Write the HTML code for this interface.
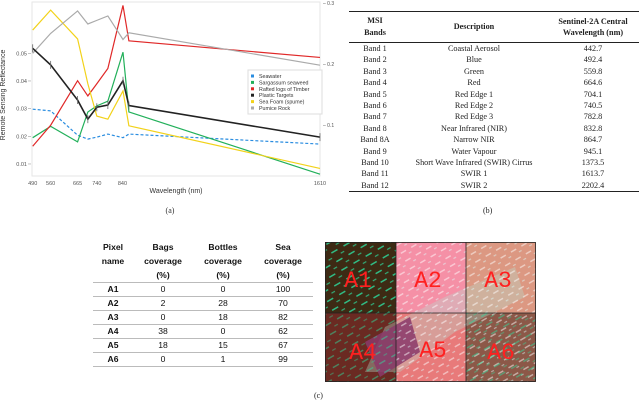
<!DOCTYPE html>
<html><head><meta charset="utf-8"><style>
body{margin:0;width:640px;height:405px;background:#fff;position:relative;overflow:hidden;font-family:"Liberation Sans",sans-serif}
.abs{position:absolute}
.serif{font-family:"Liberation Serif",serif;color:#222}
td{padding:0}
</style></head><body>
<svg class="abs" style="left:0;top:0" width="345" height="220" id="chart">
<rect x="32" y="2" width="288" height="174" fill="none" stroke="#e6e6e6"/>
<text x="5" y="95" font-size="7" fill="#333" transform="rotate(-90 5 95)" text-anchor="middle">Remote Sensing Reflectance</text>
<text x="176" y="193" font-size="7" fill="#333" text-anchor="middle">Wavelength (nm)</text>
<text x="170" y="213" font-size="8" fill="#333" text-anchor="middle" font-family="Liberation Serif">(a)</text>
<g id="g"></g>
<g>
<rect x="248" y="70" width="74" height="44" fill="#fff" stroke="#ddd"/>
<g id="leg"></g>
</g>
</svg>
<script>
const wl=[490,560,665,705,740,783,842,865,1610];
const seawater=[0.0298,0.0292,0.0204,0.019,0.0197,0.0208,0.0195,0.0208,0.0172];
const sargassum=[0.0195,0.0236,0.018,0.0288,0.031,0.0327,0.0504,0.0288,0.0063];
const timber=[0.0164,0.024,0.0401,0.0346,0.039,0.0445,0.0673,0.0545,0.0485];
const plastic=[0.0518,0.0458,0.0331,0.0262,0.0305,0.0313,0.0401,0.0311,0.0197];
const foam=[0.0584,0.0656,0.0552,0.039,0.0273,0.0262,0.0364,0.0238,0.0084];
const pumice=[0.05,0.0572,0.0653,0.0606,0.0619,0.0635,0.055,0.0574,0.0457];
const xTicks=[490,560,665,740,840,1610];
const yTicks=[0.01,0.02,0.03,0.04,0.05];
const yRight=[0.1,0.2,0.3];
const legendNames=["Seawater","Sargassum seaweed","Rafted logs of Timber","Plastic Targets","Sea Foam (spume)","Pumice Rock"];
const NS="http://www.w3.org/2000/svg";
const X=v=>32.7+(v-490)*0.2565;
const Y=v=>53.3-(v-0.05)*2767;
const YR=v=>3+(0.3-v)*610;
const g=document.getElementById('g');
function mk(t,a){const e=document.createElementNS(NS,t);for(const k in a)e.setAttribute(k,a[k]);g.appendChild(e);return e;}
xTicks.forEach(t=>{const e=mk('text',{x:X(t),y:185,'font-size':5.5,fill:'#555','text-anchor':'middle'});e.textContent=t;

});
yTicks.forEach(t=>{const e=mk('text',{x:27,y:Y(t)+2,'font-size':5.5,fill:'#555','text-anchor':'end'});e.textContent=t.toFixed(2);


mk('line',{x1:28,x2:31,y1:Y(t),y2:Y(t),stroke:'#888','stroke-width':0.5});});
yRight.forEach(t=>{const e=mk('text',{x:323,y:YR(t)+2,'font-size':5,fill:'#555'});e.textContent='– '+t.toFixed(1);

});
const series=[[seawater,'#2a8de0','3,2'],[sargassum,'#22b05a',''],[timber,'#e02828',''],[foam,'#f2d21a',''],[pumice,'#aaaaaa',''],[plastic,'#222','']];
series.forEach(([d,c,dash],i)=>{const p=mk('polyline',{points:d.map((v,j)=>X(wl[j])+','+Y(v)).join(' '),fill:'none',stroke:c,'stroke-width':c=='#222'?1.6:1.2,'stroke-dasharray':dash});

});
plastic.forEach((v,j)=>{const l=mk('line',{x1:X(wl[j]),x2:X(wl[j]),y1:Y(v)-4,y2:Y(v)+4,stroke:'#666','stroke-width':0.8});

});
const legCols=['#2a8de0','#22b05a','#e02828','#222','#f2d21a','#aaa'];
const lg=document.getElementById('leg');
legendNames.forEach((n,i)=>{const y=77+i*6.4;
const r=document.createElementNS(NS,'rect');r.setAttribute('x',251);r.setAttribute('y',y-2.5);r.setAttribute('width',3);r.setAttribute('height',3);r.setAttribute('fill',legCols[i]);lg.appendChild(r);
const t=document.createElementNS(NS,'text');t.setAttribute('x',259);t.setAttribute('y',y+1);t.setAttribute('font-size',5.3);t.setAttribute('fill','#333');t.textContent=n;


lg.appendChild(t);});
</script>

<div class="abs serif" style="left:349px;top:11px;width:290px">
<div style="border-top:1.3px solid #222;height:0"></div>
<table style="border-collapse:collapse;width:100%;font-size:8.2px;line-height:11.4px;text-align:center" id="tb">
<tr style="font-weight:bold;line-height:11.5px"><td style="width:52px;padding:3px 0 4px">MSI<br>Bands</td><td>Description</td><td style="width:92px">Sentinel-2A Central<br>Wavelength (nm)</td></tr>
</table>
<div style="border-top:1.3px solid #222;height:0"></div>
</div>
<div class="abs serif" style="left:483px;top:206px;font-size:8px">(b)</div>
<script>
const rows=[["Band 1","Coastal Aerosol","442.7"],["Band 2","Blue","492.4"],["Band 3","Green","559.8"],["Band 4","Red","664.6"],["Band 5","Red Edge 1","704.1"],["Band 6","Red Edge 2","740.5"],["Band 7","Red Edge 3","782.8"],["Band 8","Near Infrared (NIR)","832.8"],["Band 8A","Narrow NIR","864.7"],["Band 9","Water Vapour","945.1"],["Band 10","Short Wave Infrared (SWIR) Cirrus","1373.5"],["Band 11","SWIR 1","1613.7"],["Band 12","SWIR 2","2202.4"]];
const tb=document.getElementById('tb');
rows.forEach((r,i)=>{const tr=document.createElement('tr');


r.forEach(c=>{const td=document.createElement('td');td.textContent=c;td.style.height='11.4px';tr.appendChild(td);});
if(i==0)tr.style.borderTop='0.8px solid #222';tb.appendChild(tr);});
</script>

<div class="abs" style="left:93px;top:240px;width:220px;font-size:8.6px;color:#111">
<table style="border-collapse:collapse;width:100%;text-align:center" id="ct">
<tr style="font-weight:bold;line-height:14px;vertical-align:top"><td style="width:40px">Pixel<br>name</td><td>Bags<br>coverage<br>(%)</td><td>Bottles<br>coverage<br>(%)</td><td>Sea<br>coverage<br>(%)</td></tr>
</table>
</div>
<script>
const cov=[["A1",0,0,100],["A2",2,28,70],["A3",0,18,82],["A4",38,0,62],["A5",18,15,67],["A6",0,1,99]];
const ct=document.getElementById('ct');
cov.forEach(r=>{const tr=document.createElement('tr');tr.style.borderTop='1.5px solid #bbb';tr.style.lineHeight='13px';


r.forEach((c,i)=>{const td=document.createElement('td');td.textContent=c;if(i==0)td.style.fontWeight='bold';tr.appendChild(td);});ct.appendChild(tr);});
ct.lastChild.style.borderBottom='1.5px solid #bbb';
</script>

<svg class="abs" style="left:325px;top:242px" width="211" height="140">
<defs>
<pattern id="st" width="14" height="10" patternUnits="userSpaceOnUse" patternTransform="rotate(-30)">
<rect x="0" y="2" width="7" height="1.5" fill="#2de0a0" opacity="0.8"/><rect x="8" y="7" width="4" height="1.2" fill="#2de0a0" opacity="0.7"/></pattern>
<pattern id="wt" width="12" height="9" patternUnits="userSpaceOnUse" patternTransform="rotate(-30)">
<rect x="0" y="2" width="6" height="1.5" fill="#fff" opacity="0.7"/><rect x="7" y="6" width="3" height="1.2" fill="#dff" opacity="0.7"/></pattern>
</defs>
<rect x="0" y="0" width="71" height="71" fill="#3d2a14"/>
<rect x="71" y="0" width="70" height="71" fill="#f590a6"/>
<rect x="141" y="0" width="70" height="71" fill="#dc9882"/>
<rect x="0" y="71" width="71" height="69" fill="#6a2a22"/>
<rect x="71" y="71" width="70" height="69" fill="#e87a7a"/>
<rect x="141" y="71" width="70" height="69" fill="#8c5848"/>
<polygon points="60,85 120,55 190,25 200,55 130,90 75,130 40,130" fill="#b8e0d0" opacity="0.35"/>
<polygon points="40,100 85,75 95,110 55,135" fill="#8a3a6a" opacity="0.85"/>
<rect x="0" y="0" width="71" height="71" fill="url(#st)"/>
<rect x="0" y="71" width="71" height="69" fill="url(#st)" opacity="0.6"/>
<rect x="71" y="0" width="140" height="140" fill="url(#wt)" opacity="0.7"/>
<rect x="141" y="71" width="70" height="69" fill="url(#st)" opacity="0.6"/>
<g stroke="#222" stroke-width="0.8" fill="none"><rect x="0.4" y="0.4" width="210" height="139"/><line x1="71" y1="0" x2="71" y2="140"/><line x1="141" y1="0" x2="141" y2="140"/><line x1="0" y1="71" x2="211" y2="71"/></g>
<g style="font-family:'Liberation Mono','DejaVu Sans Mono',monospace" font-size="23" fill="#ff2020" text-anchor="middle">
<text x="33" y="45">A1</text>
<text x="103" y="45">A2</text>
<text x="173" y="45">A3</text>
<text x="38" y="117">A4</text>
<text x="108" y="115">A5</text>
<text x="176" y="117">A6</text>
</g>
</svg>
<div class="abs serif" style="left:314px;top:391px;font-size:8px">(c)</div>
</body></html>
